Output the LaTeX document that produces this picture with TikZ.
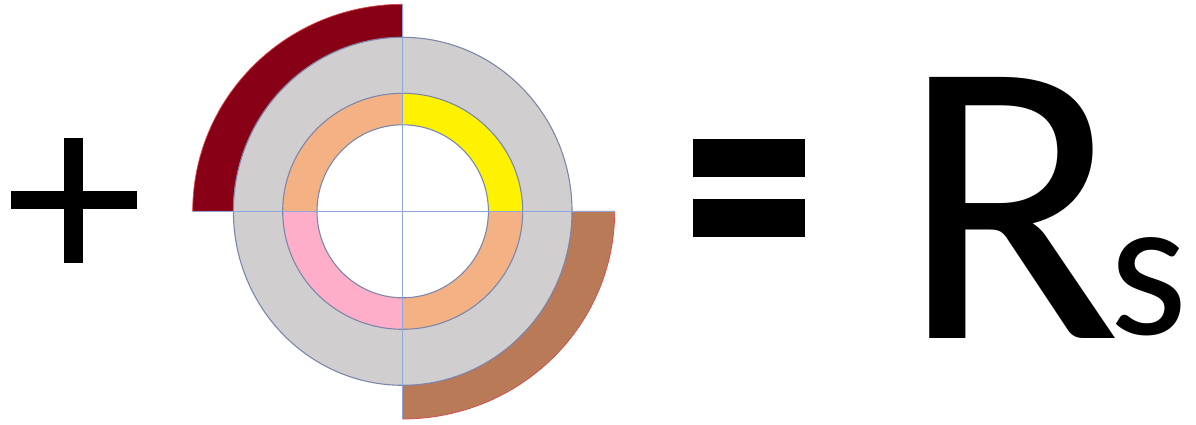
\documentclass[tikz,border=0pt]{standalone}
\usepackage{fontspec}
\setmainfont{Carlito}
\usepackage{xcolor}
\usepackage{tikz}

\definecolor{wine}{HTML}{880015}
\definecolor{clay}{HTML}{B97A57}
\definecolor{ashgrey}{HTML}{D0CECE}
\definecolor{peach}{HTML}{F4B183}
\definecolor{lemon}{HTML}{FFF200}
\definecolor{rose}{HTML}{FFAEC9}
\definecolor{rimblue}{HTML}{7B88AC}
\definecolor{axisblue}{HTML}{8EA7DA}
\definecolor{bandedge}{HTML}{D8474A}

\begin{document}
\begin{tikzpicture}[
    x=1pt, y=1pt,
    rim/.style={draw=rimblue, line width=1.1pt},
    band/.style={draw=bandedge, line width=0.7pt},
    axisline/.style={axisblue, line width=1.3pt},
    letter/.style={anchor=base west, inner sep=0pt},
]
    \useasboundingbox (0,0) rectangle (1196,425);

    \def\greyrx{169.3}   % outer grey disc, horizontal radius
    \def\greyry{174}     % outer grey disc, vertical radius
    \def\ringrx{120}     % coloured ring, outer radii
    \def\ringry{118}
    \def\holerx{85.7}    % white hole in the middle
    \def\holery{86.5}
    \def\winerx{210}     % dark red band, top left
    \def\winery{207}
    \def\clayrx{212}     % brown band, bottom right
    \def\clayry{207.7}

    % =============================================================
    % Left: the plus sign
    % =============================================================
    \fill (11,215.7) rectangle (136.7,234.3);
    \fill (64.3,161.7) rectangle (83,287.3);

    % =============================================================
    % Middle: the disc with its two outer bands
    % =============================================================
    \begin{scope}[shift={(402.7,213.7)}]
        % the two quarter bands sit behind the grey disc
        \filldraw[fill=wine, band] (0,\winery)
            arc[start angle=90, end angle=180, x radius=\winerx, y radius=\winery]
            -- (-\greyrx,0)
            arc[start angle=180, end angle=90, x radius=\greyrx, y radius=\greyry]
            -- cycle;
        \filldraw[fill=clay, band] (0,-\clayry)
            arc[start angle=270, end angle=360, x radius=\clayrx, y radius=\clayry]
            -- (\greyrx,0)
            arc[start angle=0, end angle=-90, x radius=\greyrx, y radius=\greyry]
            -- cycle;

        \filldraw[fill=ashgrey, rim] (0,0)
            ellipse[x radius=\greyrx, y radius=\greyry];

        % the ring: peach, with a yellow and a pink quarter
        \fill[peach] (0,0) ellipse[x radius=\ringrx, y radius=\ringry];
        \fill[lemon] (0,0) -- (\ringrx,0)
            arc[start angle=0, end angle=90, x radius=\ringrx, y radius=\ringry]
            -- cycle;
        \fill[rose] (0,0) -- (-\ringrx,0)
            arc[start angle=180, end angle=270, x radius=\ringrx, y radius=\ringry]
            -- cycle;
        \draw[rim] (0,0) ellipse[x radius=\ringrx, y radius=\ringry];
        \filldraw[fill=white, rim] (0,0)
            ellipse[x radius=\holerx, y radius=\holery];

        % cross hairs
        \draw[axisline] (-\winerx,0) -- (\clayrx,0);
        \draw[axisline] (0,\winery) -- (0,-\clayry);
    \end{scope}

    % =============================================================
    % Right: equals sign and the result
    % =============================================================
    \fill (692.7,248.3) rectangle (804.7,285.7);
    \fill (692.7,188.3) rectangle (804.7,226);

    \node[letter, font=\fontsize{407}{409}\selectfont] (R) at (900,86) {R};
    \node[letter, font=\fontsize{200}{202}\selectfont] (s)
        at ([xshift=-12pt, yshift=4pt]R.base east) {s};

\end{tikzpicture}
\end{document}
